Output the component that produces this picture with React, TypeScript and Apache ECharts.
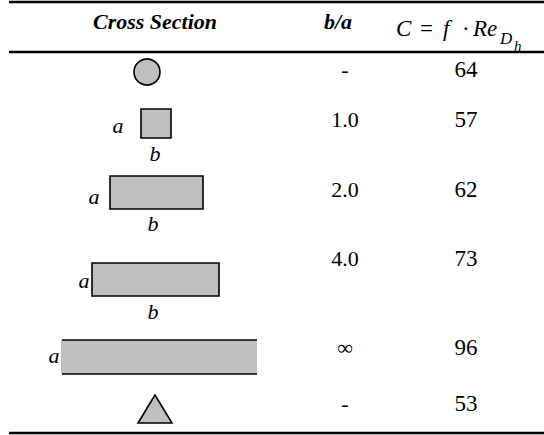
import React, { useEffect, useRef } from "react";
import * as echarts from "echarts";

// ---- Data ----
const headers = ["Cross Section", "b/a"];
const formulaParts = ["C", "=", "f", "·", "Re"];
const formulaItalic = [true, false, true, false, true];
const formulaSub = ["D", "h"];
const crossSections = ["circle", "square", "rect2", "rect4", "plates", "triangle"];
const ratios = ["-", "1.0", "2.0", "4.0", "∞", "-"];
const coefficients = [64, 57, 62, 73, 96, 53];

// ---- Layout ----
const W = 544;
const H = 435;
const FONT = "Liberation Serif";
const rowY = [70, 120, 190, 259, 348, 404];
const colRatioX = 345;
const colCoefX = 466;
const formulaX = [396, 420, 443, 462, 473];
const GRAY = "#c0c0c0";

let measureCtx: CanvasRenderingContext2D | null = null;
function measure(text: string, size: number, fs: string, fw: string): number {
  if (!measureCtx) measureCtx = document.createElement("canvas").getContext("2d");
  if (!measureCtx) return text.length * size * 0.5;
  measureCtx.font = `${fs} ${fw} ${size}px "${FONT}"`;
  return measureCtx.measureText(text).width;
}

// x, y: anchor point (center by default, or left edge), y is the visual middle
function txt(text: string, x: number, y: number, opts: any = {}) {
  const size = opts.fontSize ?? 22;
  const fs = opts.fontStyle ?? "normal";
  const fw = opts.fontWeight ?? "normal";
  const w = measure(text, size, fs, fw);
  const left = opts.align === "left" ? x : x - w / 2;
  const top = y - size * 0.53;
  const style: any = { text, fontFamily: FONT, fontSize: size, fill: "#000" };
  if (opts.fontStyle) style.fontStyle = opts.fontStyle;
  if (opts.fontWeight) style.fontWeight = opts.fontWeight;
  return { type: "text", x: left, y: top, style };
}

function hline(x1: number, x2: number, y: number, w: number) {
  return {
    type: "line",
    shape: { x1, y1: y, x2, y2: y },
    style: { stroke: "#000", lineWidth: w },
  };
}

function shapeElements(kind: string): any[] {
  const st = { fill: GRAY, stroke: "#000", lineWidth: 1.6 };
  const it = { fontStyle: "italic", fontSize: 22 };
  switch (kind) {
    case "circle":
      return [{ type: "circle", shape: { cx: 147, cy: 72, r: 13 }, style: st }];
    case "square":
      return [
        { type: "rect", shape: { x: 141, y: 109, width: 30, height: 29 }, style: st },
        txt("a", 118, 126, it),
        txt("b", 155, 154, it),
      ];
    case "rect2":
      return [
        { type: "rect", shape: { x: 110, y: 176, width: 93, height: 33 }, style: st },
        txt("a", 94, 197, it),
        txt("b", 153, 224, it),
      ];
    case "rect4":
      return [
        { type: "rect", shape: { x: 92, y: 263, width: 127, height: 33 }, style: st },
        txt("a", 84, 281, it),
        txt("b", 153, 312, it),
      ];
    case "plates":
      return [
        { type: "rect", shape: { x: 61, y: 340, width: 196, height: 34 }, style: { fill: GRAY } },
        hline(62, 257, 340, 1.6),
        hline(62, 257, 374, 1.6),
        txt("a", 54, 356, it),
      ];
    case "triangle":
      return [
        {
          type: "polygon",
          shape: { points: [[155, 395], [138, 423], [172, 423]] },
          style: st,
        },
      ];
  }
  return [];
}

export default function App() {
  const ref = useRef<HTMLDivElement>(null);
  useEffect(() => {
    document.body.style.margin = "0";
    const chart = echarts.init(ref.current!, null, { renderer: "svg" });
    const elements: any[] = [];
    elements.push({ type: "rect", shape: { x: 0, y: 0, width: W, height: H }, style: { fill: "#fff" } });
    elements.push(hline(9, W, 2, 2.5));
    elements.push(hline(9, W, 52, 2.5));
    elements.push(hline(9, W, 433, 2.5));

    const hdr = { fontStyle: "italic", fontWeight: "bold", fontSize: 22 };
    elements.push(txt(headers[0], 155, 22, hdr));
    elements.push(txt(headers[1], 338, 22, hdr));

    formulaParts.forEach((p, i) => {
      elements.push(
        txt(p, formulaX[i], 29, {
          align: "left",
          fontSize: 23,
          fontStyle: formulaItalic[i] ? "italic" : undefined,
        })
      );
    });
    elements.push(txt(formulaSub[0], 500, 39, { align: "left", fontSize: 17, fontStyle: "italic" }));
    elements.push(txt(formulaSub[1], 514, 46, { align: "left", fontSize: 15, fontStyle: "italic" }));

    crossSections.forEach((k, i) => {
      shapeElements(k).forEach((e) => elements.push(e));
      elements.push(txt(ratios[i], colRatioX, rowY[i], { fontSize: 22 }));
      elements.push(txt(String(coefficients[i]), colCoefX, rowY[i], { fontSize: 23 }));
    });

    chart.setOption({
      animation: false,
      backgroundColor: "#fff",
      textStyle: { fontFamily: FONT },
      graphic: { elements },
    });
    return () => chart.dispose();
  }, []);
  return (
    <div
      ref={ref}
      style={{ width: W, height: H, position: "fixed", left: 0, top: 0 }}
    />
  );
}
